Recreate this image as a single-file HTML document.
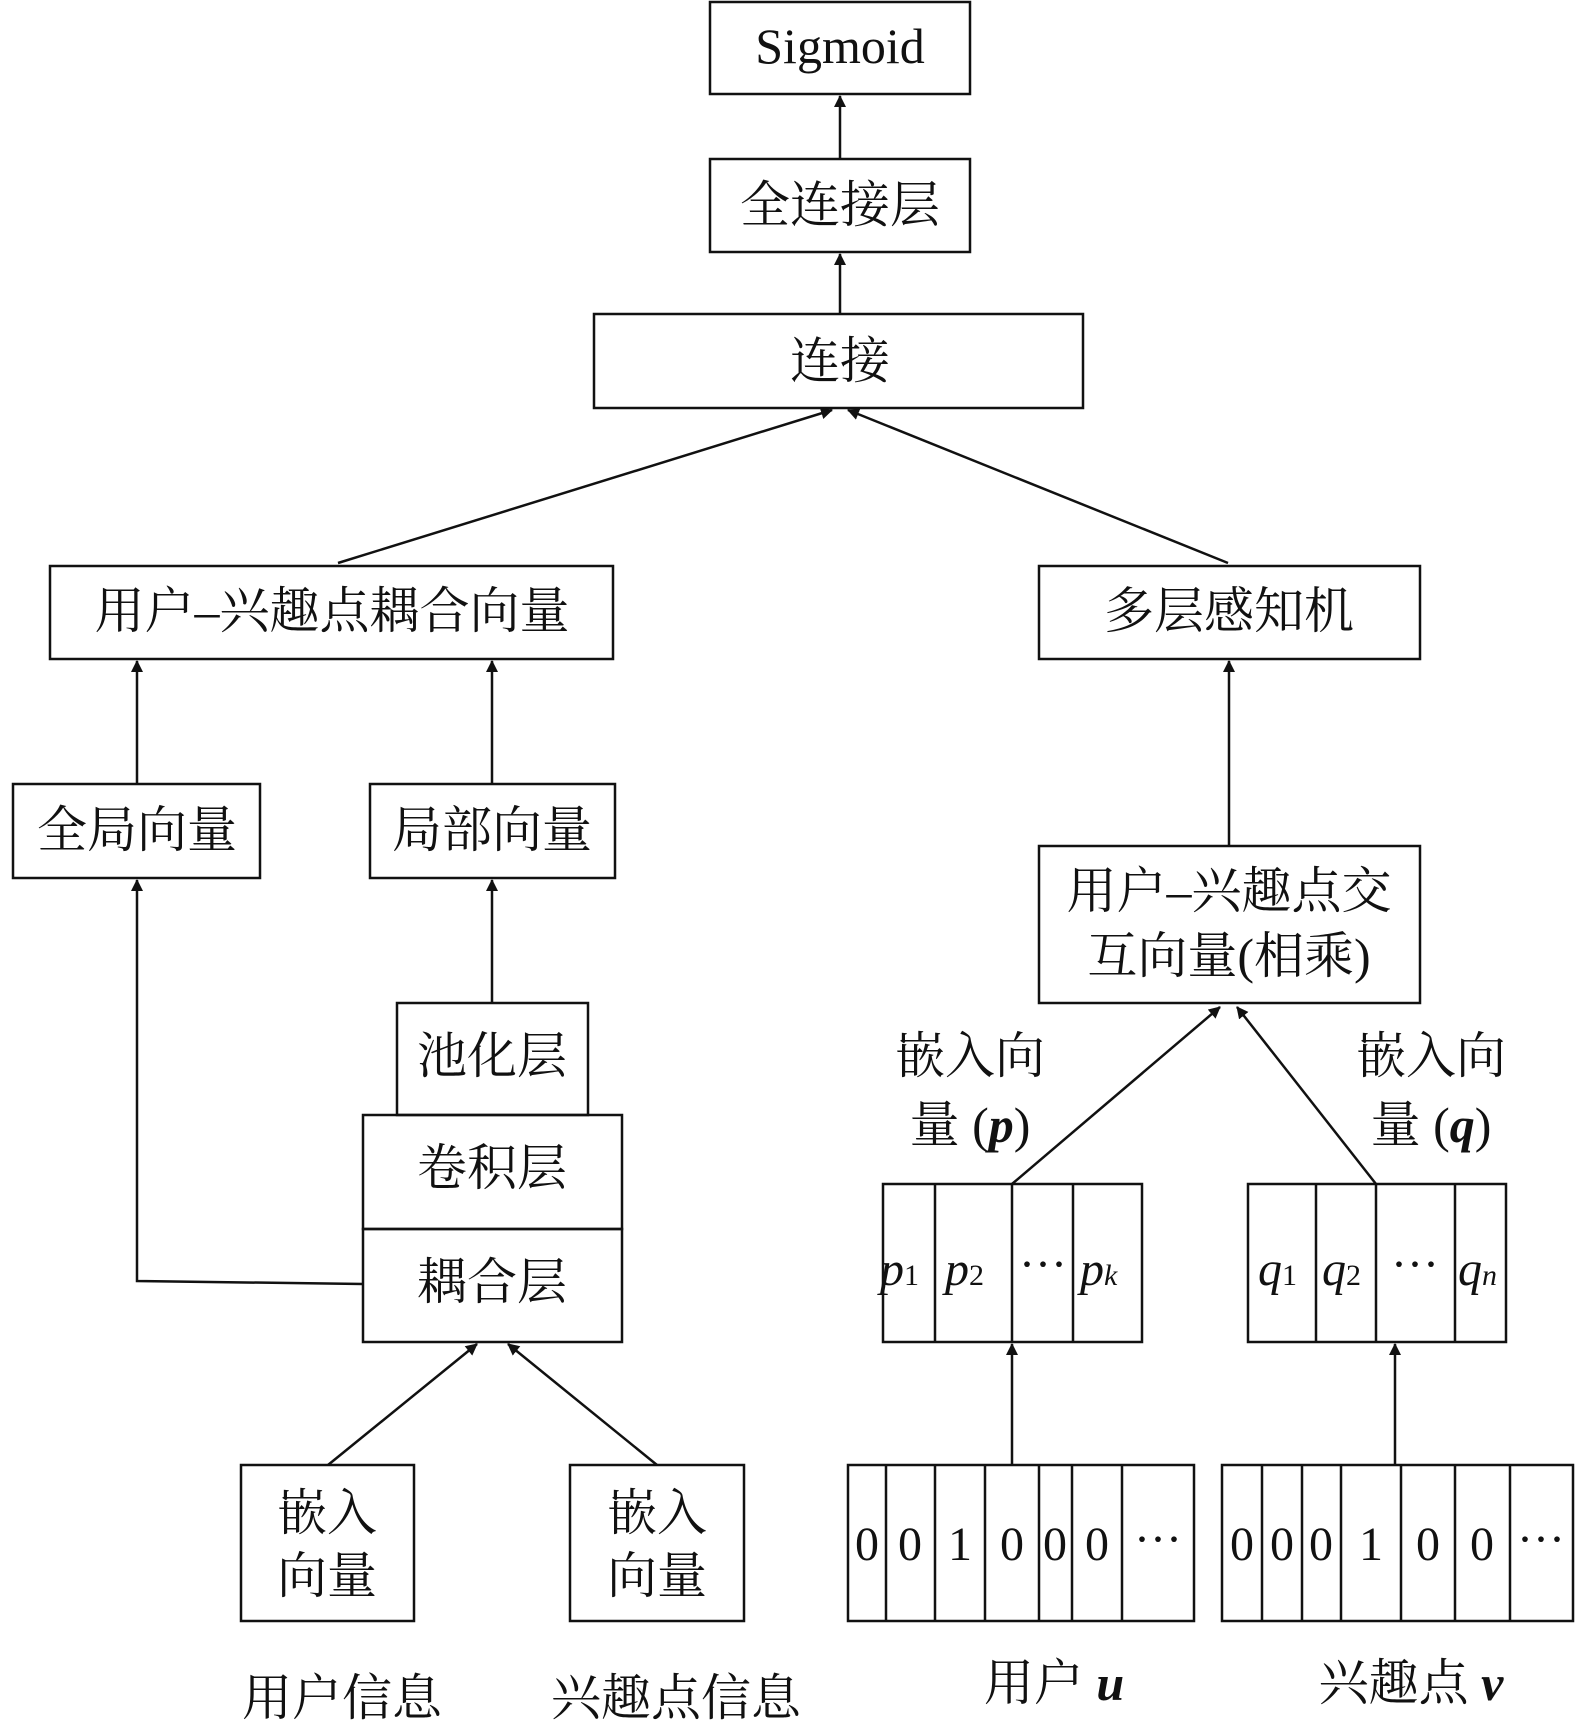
<!DOCTYPE html>
<html><head><meta charset="utf-8"><style>
body{margin:0;background:#fff}
svg{display:block}
text{font-family:"Liberation Serif","Noto Serif CJK SC",serif;fill:#111}
</style></head><body>
<svg width="1575" height="1729" viewBox="0 0 1575 1729" xmlns="http://www.w3.org/2000/svg">
<defs><marker id="a" markerWidth="12" markerHeight="12" refX="11" refY="6" orient="auto" markerUnits="userSpaceOnUse"><path d="M0,0 L12,6 L0,12 z" fill="#111"/></marker></defs>
<g fill="none" stroke="#111" stroke-width="2.5">
<rect x="710" y="2" width="260" height="92"/>
<rect x="710" y="159" width="260" height="93"/>
<rect x="594" y="314" width="489" height="94"/>
<rect x="50" y="566" width="563" height="93"/>
<rect x="1039" y="566" width="381" height="93"/>
<rect x="13" y="784" width="247" height="94"/>
<rect x="370" y="784" width="245" height="94"/>
<rect x="1039" y="846" width="381" height="157"/>
<rect x="397" y="1003" width="191" height="112"/>
<rect x="363" y="1115" width="259" height="114"/>
<rect x="363" y="1229" width="259" height="113"/>
<rect x="241" y="1465" width="173" height="156"/>
<rect x="570" y="1465" width="174" height="156"/>
<rect x="883" y="1184" width="259" height="158"/>
<path d="M935 1184V1342M1012 1184V1342M1073 1184V1342"/>
<rect x="1248" y="1184" width="258" height="158"/>
<path d="M1316 1184V1342M1376 1184V1342M1455 1184V1342"/>
<rect x="848" y="1465" width="346" height="156"/>
<path d="M886 1465V1621M935 1465V1621M985 1465V1621M1039 1465V1621M1072 1465V1621M1122 1465V1621"/>
<rect x="1222" y="1465" width="351" height="156"/>
<path d="M1262 1465V1621M1302 1465V1621M1341 1465V1621M1401 1465V1621M1455 1465V1621M1510 1465V1621"/>
</g>
<g stroke="#111" stroke-width="2.5" fill="none" marker-end="url(#a)">
<path d="M840 159V96"/>
<path d="M840 314V254"/>
<path d="M338 563L832 410"/>
<path d="M1228 563L848 410"/>
<path d="M137 784V661"/>
<path d="M492 784V661"/>
<path d="M363 1284L137 1281V880"/>
<path d="M492 1003V880"/>
<path d="M328 1465L477 1344"/>
<path d="M657 1465L508 1344"/>
<path d="M1229 846V661"/>
<path d="M1012 1184L1220 1007"/>
<path d="M1376 1184L1237 1007"/>
<path d="M1012 1465V1344"/>
<path d="M1395 1465V1344"/>
</g>
<g font-size="50" text-anchor="middle">
<text x="840" y="63">Sigmoid</text>
<text x="840" y="222">全连接层</text>
<text x="840" y="378">连接</text>
<text x="332" y="628">用户–兴趣点耦合向量</text>
<text x="1229" y="628">多层感知机</text>
<text x="137" y="847">全局向量</text>
<text x="492" y="847">局部向量</text>
<text x="1229" y="908">用户–兴趣点交</text>
<text x="1229" y="973">互向量(相乘)</text>
<text x="492" y="1073">池化层</text>
<text x="492" y="1185">卷积层</text>
<text x="492" y="1299">耦合层</text>
<text x="327" y="1530">嵌入</text>
<text x="327" y="1593">向量</text>
<text x="657" y="1530">嵌入</text>
<text x="657" y="1593">向量</text>
<text x="970" y="1073">嵌入向</text>
<text x="970" y="1142">量 (<tspan font-style="italic" font-weight="bold">p</tspan>)</text>
<text x="1431" y="1073">嵌入向</text>
<text x="1431" y="1142">量 (<tspan font-style="italic" font-weight="bold">q</tspan>)</text>
<text x="342" y="1715">用户信息</text>
<text x="676" y="1715">兴趣点信息</text>
<text x="1054" y="1700">用户 <tspan font-style="italic" font-weight="bold">u</tspan></text>
<text x="1411" y="1700">兴趣点 <tspan font-style="italic" font-weight="bold">v</tspan></text>
<g font-size="48">
<text x="867" y="1560">0</text><text x="910" y="1560">0</text><text x="960" y="1560">1</text><text x="1012" y="1560">0</text><text x="1055" y="1560">0</text><text x="1097" y="1560">0</text><text x="1158" y="1555">···</text>
<text x="1242" y="1560">0</text><text x="1282" y="1560">0</text><text x="1321" y="1560">0</text><text x="1371" y="1560">1</text><text x="1428" y="1560">0</text><text x="1482" y="1560">0</text><text x="1541" y="1555">···</text>
</g>
<g font-size="48" font-style="italic" text-anchor="start">
<text x="880" y="1285">p<tspan font-size="30" font-style="normal">1</tspan></text>
<text x="945" y="1285">p<tspan font-size="30" font-style="normal">2</tspan></text>
<text x="1080" y="1285">p<tspan font-size="30">k</tspan></text>
<text x="1258" y="1285">q<tspan font-size="30" font-style="normal">1</tspan></text>
<text x="1322" y="1285">q<tspan font-size="30" font-style="normal">2</tspan></text>
<text x="1458" y="1285">q<tspan font-size="30">n</tspan></text>
</g>
<text x="1043" y="1280" font-size="48">···</text>
<text x="1415" y="1280" font-size="48">···</text>
</g>
</svg>
</body></html>
